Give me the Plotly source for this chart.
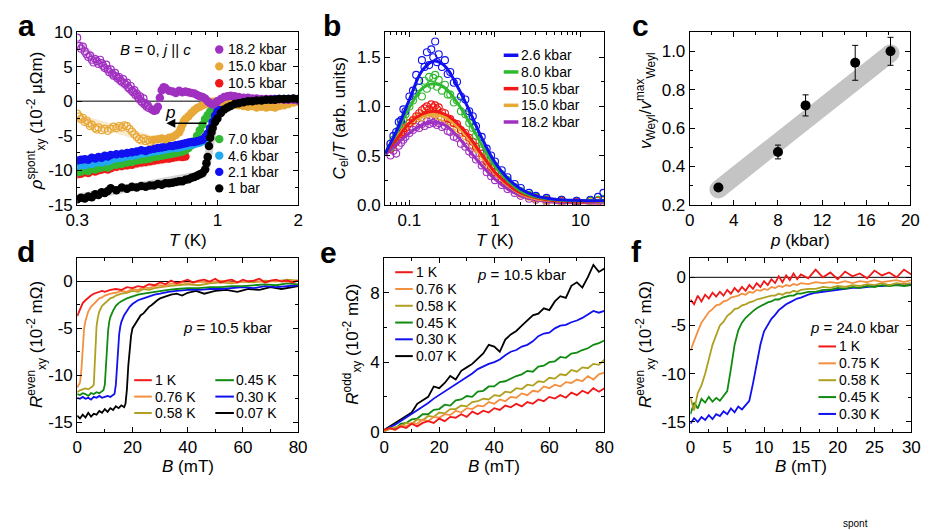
import math
import plotly.graph_objects as go

FONT = "Liberation Sans, Arial, Helvetica, sans-serif"
W, H = 935, 530

# ---------------- panel a : rho_xy^spont vs T ----------------
a_T_grid = [0.30, 0.31, 0.32, 0.33, 0.34, 0.35, 0.36, 0.37, 0.38, 0.39, 0.40,
            0.42, 0.44, 0.46, 0.48, 0.50, 0.52, 0.54, 0.56, 0.58, 0.60, 0.62, 0.64, 0.66, 0.68,
            0.70, 0.72, 0.74, 0.76, 0.78, 0.80, 0.82, 0.84, 0.86, 0.88, 0.90, 0.92, 0.94, 0.96, 0.98,
            1.00, 1.03, 1.06, 1.09, 1.12, 1.16, 1.20, 1.25, 1.30, 1.35, 1.40,
            1.46, 1.52, 1.58, 1.64, 1.70, 1.77, 1.84, 1.92, 2.00]
a_blue_21 = [-8.6, -8.5, -8.4, -8.5, -8.2, -8.3, -8.1, -8.2, -7.9, -8.0, -7.8,
             -7.7, -7.6, -7.5, -7.4, -7.3, -7.1, -7.2, -7.0, -6.9, -6.8, -6.7, -6.6, -6.5, -6.5,
             -6.4, -6.3, -6.2, -6.1, -6.0, -5.9, -5.9, -5.8, -5.7, -5.6, -5.2, -4.7, -3.9, -3.0, -2.1,
             -1.5, -1.0, -0.6, -0.4, -0.2, -0.1, 0.0, 0.0, 0.1, 0.1, 0.2,
             0.1, 0.2, 0.2, 0.3, 0.2, 0.3, 0.3, 0.3, 0.2]
a_lblue_46 = [-9.4, -9.2, -9.3, -9.0, -9.1, -8.9, -8.8, -8.9, -8.6, -8.7, -8.5,
              -8.3, -8.2, -8.0, -7.9, -7.8, -7.6, -7.5, -7.4, -7.3, -7.2, -7.1, -7.0, -6.9, -6.8,
              -6.8, -6.7, -6.6, -6.5, -6.4, -6.3, -6.2, -6.1, -6.0, -5.8, -5.4, -4.8, -4.0, -3.1, -2.3,
              -1.6, -1.1, -0.7, -0.4, -0.3, -0.1, 0.0, 0.0, 0.1, 0.0, 0.1,
              0.2, 0.1, 0.2, 0.2, 0.3, 0.2, 0.3, 0.2, 0.2]
a_green_70 = [-10.3, -10.2, -10.0, -10.1, -9.8, -9.9, -9.7, -9.6, -9.5, -9.6, -9.4,
              -9.2, -9.1, -8.9, -8.8, -8.6, -8.5, -8.4, -8.3, -8.1, -8.0, -7.9, -7.8, -7.7, -7.6,
              -7.5, -7.4, -7.3, -7.1, -6.8, -6.4, -5.8, -5.0, -4.2, -3.4, -2.6, -2.0, -1.5, -1.1, -0.8,
              -0.6, -0.4, -0.3, -0.2, -0.1, 0.0, 0.0, 0.1, 0.0, 0.1, 0.0,
              0.1, 0.0, 0.1, 0.0, 0.1, 0.0, 0.1, 0.0, 0.1]
a_T_red = [0.30, 0.31, 0.32, 0.33, 0.34, 0.35, 0.36, 0.37, 0.38, 0.39, 0.40,
           0.42, 0.44, 0.46, 0.48, 0.50, 0.52, 0.54, 0.56, 0.58, 0.60, 0.62, 0.64, 0.66, 0.68,
           0.70, 0.72, 0.74, 0.76,
           1.03, 1.06, 1.09, 1.12, 1.16, 1.20, 1.25, 1.30, 1.35, 1.40,
           1.46, 1.52, 1.58, 1.64, 1.70, 1.77, 1.84, 1.92, 2.00]
a_red_105 = [-10.6, -10.5, -10.3, -10.4, -10.1, -10.2, -10.0, -9.9, -9.8, -9.9, -9.7,
             -9.5, -9.4, -9.3, -9.2, -9.0, -8.9, -8.8, -8.7, -8.6, -8.5, -8.4, -8.3, -8.3, -8.2,
             -8.1, -8.0, -8.1, -8.0,
             -0.5, -0.4, -0.3, -0.3, -0.4, -0.3, -0.2, -0.3, -0.2, -0.3,
             -0.2, -0.3, -0.2, -0.2, -0.1, -0.1, 0.0, 0.0, 0.0]
a_T_black = [0.30, 0.31, 0.32, 0.33, 0.34, 0.35, 0.36, 0.37, 0.38, 0.39, 0.40,
             0.42, 0.44, 0.46, 0.48, 0.50, 0.52, 0.54, 0.56, 0.58, 0.60, 0.62, 0.64, 0.66, 0.68,
             0.70, 0.72, 0.74, 0.76, 0.78, 0.80, 0.82, 0.84, 0.86, 0.88,
             0.90, 0.91, 0.92, 0.93, 0.94, 0.95, 0.96, 0.98,
             1.00, 1.03, 1.06, 1.09, 1.12, 1.16, 1.20, 1.25, 1.30, 1.35, 1.40,
             1.46, 1.52, 1.58, 1.64, 1.70, 1.77, 1.84, 1.92, 2.00]
a_black_1bar = [-14.2, -14.0, -14.1, -13.8, -13.9, -13.5, -13.6, -13.2, -13.3, -13.0, -12.6,
                -12.9, -12.5, -12.7, -12.4, -12.5, -12.3, -12.4, -12.2, -12.2, -12.0, -12.1, -11.9, -11.9, -11.8,
                -11.7, -11.6, -11.6, -11.4, -11.3, -11.1, -11.0, -10.8, -10.6, -10.4,
                -9.9, -9.0, -8.1, -6.5, -5.3, -4.5, -3.9, -3.0,
                -2.5, -1.7, -1.2, -0.9, -0.7, -0.4, -0.3, -0.15, 0.0, 0.0, 0.1,
                0.1, 0.2, 0.2, 0.2, 0.3, 0.3, 0.3, 0.4, 0.3]
a_T_purple_open = [0.300, 0.305, 0.310, 0.315, 0.320, 0.325, 0.330, 0.335, 0.340, 0.345,
                   0.350, 0.355, 0.360, 0.365, 0.370, 0.375, 0.380, 0.385, 0.390, 0.395,
                   0.400, 0.405, 0.410, 0.415, 0.420, 0.425, 0.430, 0.435, 0.440, 0.445,
                   0.450, 0.455, 0.460, 0.465, 0.470, 0.475, 0.480, 0.485, 0.490, 0.495,
                   0.500, 0.505, 0.510, 0.515, 0.520, 0.525, 0.530, 0.535, 0.540, 0.545,
                   0.550, 0.555]
a_purple_open = [9.2, 8.0, 7.6, 7.9, 7.2, 6.8, 6.4, 6.6, 6.0, 5.6,
                 6.1, 5.8, 5.4, 6.0, 5.5, 5.1, 4.8, 5.3, 4.6, 4.2,
                 4.6, 4.0, 3.7, 4.1, 3.6, 3.3, 3.5, 3.0, 2.8, 3.2,
                 2.6, 2.4, 2.7, 2.0, 1.8, 2.2, 1.5, 1.3, 1.6, 0.9,
                 1.1, 0.6, 0.3, 0.7, 0.0, -0.2, 0.4, -0.5, -0.3, -0.8,
                 -0.6, -1.0]
a_T_purple = [0.57, 0.58, 0.59, 0.60, 0.61, 0.62, 0.63, 0.64, 0.66, 0.68, 0.70, 0.72, 0.74, 0.76,
              0.78, 0.80, 0.82, 0.84, 0.86, 0.88, 0.90, 0.92, 0.94, 0.96, 0.98, 1.00, 1.03, 1.06,
              1.09, 1.12, 1.16, 1.20, 1.25, 1.30, 1.35, 1.40, 1.46, 1.52, 1.58, 1.64, 1.70, 1.77,
              1.84, 1.92, 2.00]
a_purple_182 = [-1.2, -1.4, -1.3, -0.8, 0.5, 1.6, 2.0, 1.9, 1.5, 1.4, 1.2, 1.5, 1.3, 1.4,
                1.3, 1.2, 1.1, 0.9, 0.7, 0.6, 0.4, 0.0, -0.3, -0.5, -0.3, 0.0, 0.3, 0.6,
                0.7, 0.8, 0.7, 0.6, 0.5, 0.5, 0.4, 0.4, 0.3, 0.3, 0.3, 0.2, 0.3, 0.2,
                0.2, 0.2, 0.1]
a_T_orange_open = [0.300, 0.305, 0.310, 0.315, 0.320, 0.325, 0.330, 0.335, 0.340, 0.350,
                   0.355, 0.360, 0.370, 0.380, 0.390, 0.400, 0.410, 0.420, 0.430, 0.440,
                   0.450, 0.460, 0.470, 0.480, 0.490, 0.500, 0.510, 0.520, 0.530, 0.540,
                   0.550, 0.560, 0.570]
a_orange_open = [-1.8, -2.2, -2.6, -2.4, -3.0, -2.8, -3.2, -3.6, -3.4, -3.9,
                 -4.1, -3.8, -4.2, -4.0, -4.3, -4.0, -3.7, -3.9, -3.6, -3.8,
                 -3.5, -3.6, -4.0, -4.4, -4.8, -5.2, -5.5, -5.7, -5.4, -5.8,
                 -5.6, -5.9, -5.7]
a_T_orange = [0.58, 0.60, 0.62, 0.64, 0.66, 0.68, 0.70, 0.72, 0.73, 0.74, 0.75, 0.76, 0.78, 0.80,
              0.82, 0.84, 0.86, 0.88, 0.90, 0.92, 0.94, 0.96, 0.98, 1.00, 1.03, 1.06, 1.09, 1.12,
              1.16, 1.20, 1.25, 1.30, 1.35, 1.40, 1.46, 1.52, 1.58, 1.64, 1.70, 1.77, 1.84, 1.92, 2.00]
a_orange_150 = [-5.6, -5.5, -5.4, -5.5, -5.3, -5.2, -4.9, -4.5, -4.0, -3.4,
                -2.9, -2.6, -2.2, -1.7, -1.3, -1.0, -0.8, -0.6, -0.4, -0.3,
                -0.2, -0.1, -0.1, 0.0, -0.1, -0.2, -0.3, -0.4, -0.5, -0.6,
                -0.7, -0.8, -0.7, -0.9, -0.8, -0.9, -0.8, -0.9, -0.7, -0.6,
                -0.4, -0.2, 0.0]
# faint guide bands (pale lines behind the points)
a_guide_purple_T, a_guide_purple = [0.30, 0.56], [8.4, -0.9]
a_guide_orange_T, a_guide_orange = [0.30, 0.57], [-2.4, -5.6]
a_guide_red_T, a_guide_red = [0.30, 0.76], [-10.5, -8.0]
a_guide_black_T = [0.30, 0.88, 0.91, 0.94, 0.97, 1.02, 1.10]
a_guide_black = [-14.0, -10.6, -9.5, -5.5, -3.2, -1.8, -0.8]
a_legend_top = ["18.2 kbar", "15.0 kbar", "10.5 kbar"]
a_legend_bottom = ["7.0 kbar", "4.6 kbar", "2.1 kbar", "1 bar"]

# ---------------- panel b : C_el/T vs T ----------------
b_T_fit = [0.052, 0.07, 0.1, 0.14, 0.19, 0.26, 0.36, 0.5, 0.7, 1.0, 1.4, 2.0, 3.0, 5.0, 8.0, 12.0, 19.0]
b_fit_26 = [0.52, 0.74, 1.07, 1.36, 1.46, 1.41, 1.21, 0.96, 0.68, 0.43, 0.27, 0.16, 0.09, 0.055, 0.045, 0.04, 0.04]
b_fit_80 = [0.52, 0.72, 0.99, 1.18, 1.23, 1.19, 1.04, 0.84, 0.61, 0.39, 0.25, 0.14, 0.08, 0.05, 0.04, 0.04, 0.04]
b_fit_105 = [0.52, 0.66, 0.83, 0.92, 0.95, 0.92, 0.83, 0.69, 0.51, 0.33, 0.21, 0.12, 0.07, 0.04, 0.03, 0.03, 0.04]
b_fit_150 = [0.53, 0.68, 0.83, 0.90, 0.92, 0.89, 0.80, 0.67, 0.49, 0.32, 0.20, 0.11, 0.06, 0.04, 0.03, 0.03, 0.03]
b_fit_182 = [0.51, 0.61, 0.73, 0.81, 0.84, 0.81, 0.70, 0.55, 0.40, 0.26, 0.16, 0.09, 0.05, 0.025, 0.02, 0.02, 0.02]
b_T_pts = [0.06, 0.065, 0.07, 0.075, 0.08, 0.085, 0.09, 0.1, 0.11, 0.12, 0.13, 0.14, 0.15, 0.16,
           0.17, 0.18, 0.19, 0.2, 0.21, 0.22, 0.24, 0.26, 0.28, 0.3, 0.33, 0.36, 0.4, 0.45, 0.5,
           0.55, 0.6, 0.7, 0.8, 0.9, 1.0, 1.2, 1.4, 1.7, 2.0, 2.5, 3, 4, 6, 9, 13, 16, 18.5]
b_pts_26 = [0.62, 0.70, 0.74, 0.84, 0.86, 0.97, 0.95, 1.10, 1.16, 1.32, 1.26, 1.47, 1.40, 1.55,
            1.42, 1.58, 1.50, 1.66, 1.45, 1.53, 1.40, 1.47, 1.33, 1.35, 1.24, 1.25, 1.10, 1.07, 0.95,
            0.90, 0.80, 0.69, 0.57, 0.50, 0.44, 0.35, 0.28, 0.21, 0.17, 0.12, 0.09, 0.07, 0.05, 0.04, 0.05, 0.08, 0.12]
b_pts_80 = [0.58, 0.66, 0.70, 0.76, 0.82, 0.87, 0.92, 1.00, 1.06, 1.13, 1.19, 1.10, 1.26, 1.18,
            1.30, 1.22, 1.29, 1.32, 1.20, 1.27, 1.16, 1.22, 1.12, 1.12, 1.04, 1.06, 0.95, 0.92, 0.83,
            0.78, 0.70, 0.62, 0.52, 0.45, 0.39, 0.31, 0.25, 0.18, 0.14, 0.10, 0.08, 0.06, 0.05, 0.04, 0.04, 0.05, 0.06]
b_pts_105 = [0.57, 0.61, 0.64, 0.69, 0.72, 0.74, 0.78, 0.83, 0.86, 0.90, 0.93, 0.96, 0.98, 1.00,
             0.97, 1.02, 0.99, 1.01, 0.97, 0.99, 0.94, 0.93, 0.88, 0.87, 0.83, 0.82, 0.76, 0.73, 0.68,
             0.64, 0.59, 0.52, 0.44, 0.38, 0.33, 0.26, 0.21, 0.16, 0.12, 0.09, 0.07, 0.05, 0.04, 0.03, 0.04, 0.04, 0.05]
b_pts_150 = [0.62, 0.66, 0.68, 0.72, 0.74, 0.78, 0.80, 0.83, 0.85, 0.88, 0.90, 0.89, 0.93, 0.92,
             0.94, 0.93, 0.95, 0.92, 0.93, 0.90, 0.89, 0.88, 0.85, 0.83, 0.80, 0.78, 0.73, 0.70, 0.66,
             0.61, 0.57, 0.49, 0.42, 0.36, 0.32, 0.25, 0.20, 0.15, 0.11, 0.08, 0.06, 0.04, 0.03, 0.03, 0.03, 0.04, 0.04]
b_pts_182 = [0.50, 0.55, 0.52, 0.60, 0.63, 0.66, 0.69, 0.73, 0.76, 0.79, 0.78, 0.82, 0.80, 0.85,
             0.82, 0.86, 0.83, 0.85, 0.81, 0.83, 0.79, 0.80, 0.75, 0.74, 0.69, 0.68, 0.62, 0.59, 0.54,
             0.51, 0.46, 0.40, 0.33, 0.29, 0.25, 0.20, 0.16, 0.12, 0.09, 0.06, 0.05, 0.03, 0.02, 0.02, 0.01, 0.02, 0.02]
b_names = ["2.6 kbar", "8.0 kbar", "10.5 kbar", "15.0 kbar", "18.2 kbar"]

# ---------------- panel c : v_Weyl / v_Weyl^max vs p ----------------
c_p = [2.6, 8.0, 10.5, 15.0, 18.2]
c_v = [0.29, 0.475, 0.718, 0.94, 1.0]
c_err = [0.0, 0.036, 0.055, 0.091, 0.073]
c_band_p = [2.6, 18.2]
c_band_v = [0.28, 0.99]

# ---------------- panel d : R_xy^even vs B, p = 10.5 kbar ----------------
d_B_1K = [0, 0.5, 1, 1.5, 2, 3, 4, 5, 6, 7, 8, 9, 10, 12, 14, 16, 18, 20, 22, 24, 26, 28, 30, 32,
          34, 36, 38, 40, 42, 44, 46, 48, 50, 52, 54, 56, 58, 60, 62, 64, 66, 68, 70, 72, 74, 76, 78, 80]
d_1K = [-3.7, -3.3, -2.9, -2.6, -2.3, -2.0, -1.7, -1.5, -1.3, -1.2, -1.1, -1.0, -1.1, -0.9, -0.8, -0.9,
        -0.6, -0.7, -0.5, -0.6, -0.3, -0.4, -0.1, -0.3, 0.1, -0.2, 0.0, 0.2, -0.1, 0.1, 0.2, 0.0,
        0.3, -0.1, 0.1, 0.2, -0.1, 0.2, 0.0, 0.1, 0.3, -0.1, 0.1, 0.2, 0.0, 0.1, -0.1, 0.1]
d_B_076 = [0, 0.5, 1, 1.5, 2, 2.5, 3, 3.5, 4, 5, 6, 7, 8, 9, 10, 12, 14, 16, 18, 20, 22, 24, 26, 28,
           30, 32, 34, 36, 38, 40, 44, 48, 52, 56, 60, 64, 68, 72, 76, 80]
d_076 = [-11.3, -11.0, -10.8, -9.5, -7.0, -5.0, -4.2, -3.6, -3.2, -2.7, -2.4, -2.1, -1.8, -1.7, -1.5,
         -1.3, -1.2, -1.0, -1.1, -0.8, -0.9, -0.6, -0.7, -0.5, -0.4, -0.5, -0.2, -0.3, -0.1, -0.2,
         0.0, -0.1, 0.1, -0.1, 0.0, 0.1, -0.1, 0.1, 0.0, 0.1]
d_B_058 = [0, 1, 2, 3, 4, 5, 5.5, 6, 6.3, 6.6, 7, 7.5, 8, 9, 10, 11, 12, 13, 14, 16, 18, 20, 22, 24,
           26, 28, 30, 33, 36, 40, 44, 48, 52, 56, 60, 64, 68, 72, 76, 80]
d_058 = [-11.8, -11.6, -11.5, -11.4, -11.5, -11.3, -11.2, -11.0, -9.0, -6.5, -4.8, -3.8, -3.2, -2.6,
         -2.3, -2.0, -1.8, -1.7, -1.5, -1.3, -1.2, -1.0, -1.1, -0.8, -0.9, -0.7, -0.6, -0.5, -0.4,
         -0.3, -0.4, -0.2, -0.1, -0.2, 0.0, -0.1, 0.1, 0.0, 0.2, 0.1]
d_B_045 = [0, 1, 2, 3, 4, 5, 6, 7, 8, 9, 9.5, 10, 10.4, 10.8, 11.2, 11.6, 12, 13, 14, 15, 16, 18, 20,
           22, 24, 26, 28, 30, 33, 36, 40, 44, 48, 52, 56, 60, 64, 68, 72, 76, 80]
d_045 = [-12.0, -12.1, -11.9, -12.0, -12.2, -11.9, -12.0, -11.8, -11.9, -11.7, -11.6, -11.0, -9.0,
         -6.8, -5.2, -4.3, -3.8, -3.1, -2.6, -2.3, -2.1, -1.8, -1.6, -1.4, -1.3, -1.2, -1.1, -1.0,
         -0.9, -0.8, -0.7, -0.7, -0.6, -0.6, -0.5, -0.5, -0.4, -0.3, -0.4, -0.2, -0.3]
d_B_030 = [0, 1, 2, 3, 4, 5, 6, 7, 8, 9, 10, 11, 12, 13, 13.5, 14, 14.4, 14.8, 15.2, 15.6, 16, 17, 18,
           19, 20, 22, 24, 26, 28, 30, 33, 36, 40, 44, 48, 52, 56, 60, 64, 68, 72, 76, 80]
d_030 = [-12.4, -12.5, -12.3, -12.5, -12.4, -12.6, -12.3, -12.4, -12.2, -12.4, -12.3, -12.2, -12.3,
         -12.1, -12.0, -11.0, -9.0, -7.0, -5.6, -4.8, -4.3, -3.6, -3.1, -2.7, -2.4, -2.0, -1.8, -1.6,
         -1.4, -1.3, -1.1, -1.0, -0.9, -0.9, -0.8, -0.8, -0.7, -0.6, -0.7, -0.5, -0.6, -0.5, -0.4]
d_B_007 = [0, 1, 2, 3, 4, 5, 6, 7, 8, 9, 10, 11, 12, 13, 14, 15, 16, 17, 17.5, 18, 18.5, 19, 19.5, 20,
           21, 22, 23, 24, 25, 26, 27, 28, 29, 30, 32, 34, 36, 38, 40, 43, 46, 50, 54, 58, 62, 66,
           70, 74, 78, 80]
d_007 = [-14.3, -14.6, -14.2, -14.5, -14.0, -14.4, -14.1, -14.2, -13.8, -14.0, -13.6, -13.9, -13.5,
         -13.7, -13.3, -13.5, -13.2, -13.4, -13.0, -11.5, -9.0, -7.0, -5.8, -5.0, -4.5, -4.0, -3.6,
         -3.4, -3.0, -2.7, -2.5, -2.2, -2.0, -1.8, -1.6, -1.4, -1.3, -1.5, -1.2, -1.0, -1.3, -1.0,
         -0.9, -1.1, -0.8, -0.9, -0.6, -0.8, -0.6, -0.5]
d_names = ["1 K", "0.76 K", "0.58 K", "0.45 K", "0.30 K", "0.07 K"]

# ---------------- panel e : R_xy^odd vs B, p = 10.5 kbar ----------------
e_B = [0, 2, 4, 6, 8, 10, 12, 14, 16, 18, 20, 22, 24, 26, 28, 30, 32, 34, 36, 38, 40,
       42, 44, 46, 48, 50, 52, 54, 56, 58, 60, 62, 64, 66, 68, 70, 72, 74, 76, 78, 80]
e_1K = [0.1, 0.2, 0.1, 0.3, 0.2, 0.45, 0.3, 0.5, 0.6, 0.5, 0.75, 0.6, 0.85, 0.8, 1.0, 0.85, 1.15,
        1.0, 1.2, 1.1, 1.35, 1.25, 1.5, 1.4, 1.6, 1.45, 1.7, 1.6, 1.85, 1.75, 2.0, 1.9, 2.1, 1.95,
        2.25, 2.1, 2.35, 2.2, 2.5, 2.3, 2.5]
e_076 = [0.0, 0.2, 0.1, 0.35, 0.3, 0.5, 0.45, 0.7, 0.6, 0.85, 0.8, 1.0, 0.95, 1.2, 1.1, 1.35, 1.3,
         1.5, 1.45, 1.7, 1.6, 1.85, 1.75, 2.0, 1.95, 2.2, 2.1, 2.35, 2.3, 2.6, 2.5, 2.7, 2.6, 2.85,
         2.8, 3.0, 2.9, 3.2, 3.0, 3.3, 3.4]
e_058 = [0.0, 0.15, 0.25, 0.3, 0.5, 0.45, 0.7, 0.65, 0.9, 0.85, 1.1, 1.05, 1.3, 1.3, 1.5, 1.45, 1.7,
         1.75, 1.9, 1.85, 2.1, 2.05, 2.3, 2.25, 2.5, 2.45, 2.7, 2.65, 2.9, 2.85, 3.1, 3.05, 3.3, 3.25,
         3.55, 3.45, 3.7, 3.65, 3.9, 3.85, 4.15]
e_045 = [0.0, 0.2, 0.15, 0.45, 0.5, 0.7, 0.75, 1.0, 1.0, 1.25, 1.3, 1.55, 1.5, 1.8, 1.85, 2.05, 2.0,
         2.3, 2.35, 2.6, 2.6, 2.85, 2.9, 3.05, 3.2, 3.3, 3.5, 3.45, 3.75, 3.8, 4.0, 4.05, 4.3, 4.25,
         4.5, 4.55, 4.7, 4.8, 5.0, 5.1, 5.25]
e_030 = [0.0, 0.25, 0.4, 0.6, 0.8, 1.0, 1.2, 1.45, 1.65, 1.9, 2.1, 2.3, 2.5, 2.75, 2.9, 3.1, 3.35,
         3.6, 3.75, 3.9, 4.0, 4.15, 4.4, 4.6, 4.7, 4.9, 5.0, 5.2, 5.5, 5.65, 5.7, 5.95, 6.1, 6.15,
         6.3, 6.4, 6.55, 6.75, 6.95, 6.85, 6.95]
e_007 = [0.1, 0.3, 0.5, 0.7, 0.9, 1.1, 1.6, 1.8, 2.0, 2.6, 2.5, 2.8, 3.2, 3.0, 3.5, 3.7, 3.9, 4.2,
         4.5, 5.0, 4.9, 4.6, 5.3, 5.6, 5.8, 6.1, 6.4, 6.7, 6.8, 7.1, 7.0, 7.5, 7.8, 7.7, 8.4, 8.6,
         8.3, 8.9, 9.6, 9.2, 9.4]
e_names = ["1 K", "0.76 K", "0.58 K", "0.45 K", "0.30 K", "0.07 K"]

# ---------------- panel f : R_xy^even vs B, p = 24.0 kbar ----------------
f_B = [0, 0.5, 1, 1.5, 2, 2.5, 3, 3.5, 4, 4.5, 5, 5.5, 6, 6.5, 7, 7.5, 8, 8.5, 9, 9.5, 10, 10.5,
       11, 11.5, 12, 12.5, 13, 13.5, 14, 14.5, 15, 16, 17, 18, 19, 20, 21, 22, 23, 24, 25, 26,
       27, 28, 29, 30]
f_1K = [-2.3, -2.8, -1.9, -2.5, -1.8, -2.2, -1.6, -2.0, -1.5, -1.9, -1.3, -1.7, -1.1, -1.5, -1.0,
        -1.4, -0.8, -1.2, -0.6, -1.0, -0.4, -0.8, -0.2, -0.6, 0.1, -0.5, 0.2, -0.3, 0.4, -0.2, 0.3,
        -0.1, 0.8, 0.0, 0.5, -0.2, 0.6, 0.1, 0.4, -0.1, 0.7, 0.2, 0.5, 0.0, 0.8, 0.3]
f_075 = [-7.6, -6.5, -5.6, -4.7, -4.2, -3.6, -3.3, -2.9, -2.8, -2.5, -2.4, -2.1, -2.0, -1.9, -1.7,
         -1.8, -1.5, -1.6, -1.3, -1.4, -1.2, -1.3, -1.0, -1.1, -0.9, -1.0, -0.8, -0.9, -0.7, -0.8,
         -0.6, -0.7, -0.5, -0.6, -0.5, -0.6, -0.4, -0.6, -0.4, -0.5, -0.3, -0.5, -0.4, -0.3, -0.5, -0.3]
f_058 = [-12.5, -13.8, -12.0, -11.2, -10.0, -8.5, -7.0, -6.0, -5.0, -4.6, -4.0, -3.7, -3.3, -3.2,
         -2.9, -2.8, -2.6, -2.5, -2.3, -2.2, -2.1, -2.0, -1.9, -1.9, -1.7, -1.8, -1.6, -1.6, -1.4,
         -1.5, -1.3, -1.2, -1.2, -1.0, -1.1, -0.9, -1.0, -0.8, -0.9, -0.7, -0.8, -0.6, -0.8, -0.6,
         -0.7, -0.6]
f_045 = [-14.2, -13.0, -13.6, -12.6, -13.0, -12.4, -12.9, -12.5, -12.8, -12.3, -11.8, -9.5, -7.0,
         -5.5, -4.7, -4.2, -3.8, -3.5, -3.2, -3.0, -2.8, -2.6, -2.5, -2.3, -2.3, -2.1, -2.0, -1.9,
         -1.9, -1.7, -1.7, -1.5, -1.5, -1.3, -1.3, -1.1, -1.2, -1.0, -1.1, -0.9, -1.0, -0.8, -0.9,
         -0.8, -0.9, -0.8]
f_030 = [-15.2, -14.6, -15.0, -14.5, -14.8, -14.3, -14.7, -14.2, -14.4, -13.9, -14.2, -13.6, -14.0,
         -13.4, -13.7, -13.2, -12.8, -11.0, -9.0, -7.0, -5.6, -4.9, -4.3, -3.9, -3.4, -3.1, -2.8,
         -2.6, -2.4, -2.2, -2.1, -1.8, -1.6, -1.5, -1.4, -1.3, -1.2, -1.1, -1.1, -1.0, -0.9, -0.9,
         -0.8, -0.8, -0.7, -0.7]
f_names = ["1 K", "0.75 K", "0.58 K", "0.45 K", "0.30 K"]

# ---------------- colours ----------------
C_PURPLE = "#A030C0"
C_GOLD = "#E8A838"
C_RED = "#F01818"
C_GREEN = "#30B830"
C_LBLUE = "#20A8F0"
C_BLUE = "#1010F0"
C_ORANGE = "#F39040"
C_OLIVE = "#B0A020"
C_DGREEN = "#108A10"

fig = go.Figure()


def fx(px):
    return px / W


def fy(py):
    return 1 - py / H


# ---- panel a traces ----
def guide(xs, ys, color):
    fig.add_trace(go.Scatter(x=xs, y=ys, mode="lines", line=dict(color=color, width=8),
                             opacity=0.25, showlegend=False, hoverinfo="skip",
                             xaxis="x", yaxis="y"))


guide(a_guide_purple_T, a_guide_purple, C_PURPLE)
guide(a_guide_orange_T, a_guide_orange, C_GOLD)
guide(a_guide_red_T, a_guide_red, C_RED)
guide(a_guide_black_T, a_guide_black, "#555555")


def dots(xs, ys, color, filled=True):
    fig.add_trace(go.Scatter(
        x=xs, y=ys, mode="markers", showlegend=False,
        marker=dict(symbol="circle" if filled else "circle-open", size=8.5 if filled else 7,
                    color=color, line=dict(width=1.2 if not filled else 0, color=color)),
        xaxis="x", yaxis="y"))


dots(a_T_red, a_red_105, C_RED)
dots(a_T_grid, a_green_70, C_GREEN)
dots(a_T_grid, a_lblue_46, C_LBLUE)
dots(a_T_grid, a_blue_21, C_BLUE)
dots(a_T_orange_open, a_orange_open, C_GOLD, filled=False)
dots(a_T_orange, a_orange_150, C_GOLD)
dots(a_T_purple_open, a_purple_open, C_PURPLE, filled=False)
dots(a_T_purple, a_purple_182, C_PURPLE)
dots(a_T_black, a_black_1bar, "#000000")

# ---- panel b traces ----
b_sets = [(b_pts_182, b_fit_182, C_PURPLE),
          (b_pts_150, b_fit_150, C_GOLD),
          (b_pts_105, b_fit_105, C_RED),
          (b_pts_80, b_fit_80, C_GREEN),
          (b_pts_26, b_fit_26, C_BLUE)]
for pts, fit, col in b_sets:
    fig.add_trace(go.Scatter(x=b_T_pts, y=pts, mode="markers", showlegend=False,
                             marker=dict(symbol="circle-open", size=7, color=col,
                                         line=dict(width=1.1, color=col)),
                             xaxis="x2", yaxis="y2"))
for pts, fit, col in b_sets:
    fig.add_trace(go.Scatter(x=b_T_fit, y=fit, mode="lines", showlegend=False,
                             line=dict(color=col, width=3, shape="spline"),
                             xaxis="x2", yaxis="y2"))

# ---- panel c traces ----
fig.add_trace(go.Scatter(x=c_band_p, y=c_band_v, mode="lines+markers", showlegend=False,
                         line=dict(color="#C4C4C4", width=18),
                         marker=dict(size=18, color="#C4C4C4"),
                         xaxis="x3", yaxis="y3"))
fig.add_trace(go.Scatter(x=c_p, y=c_v, mode="markers", showlegend=False,
                         marker=dict(size=10, color="black"),
                         error_y=dict(type="data", array=c_err, color="black", thickness=1, width=3),
                         xaxis="x3", yaxis="y3"))

# ---- panel d traces ----
d_cols = [C_RED, C_ORANGE, C_OLIVE, C_DGREEN, C_BLUE, "#000000"]
d_sets = [(d_B_1K, d_1K), (d_B_076, d_076), (d_B_058, d_058),
          (d_B_045, d_045), (d_B_030, d_030), (d_B_007, d_007)]
for (xs, ys), col in reversed(list(zip(d_sets, d_cols))):
    fig.add_trace(go.Scatter(x=xs, y=ys, mode="lines", showlegend=False,
                             line=dict(color=col, width=1.8), xaxis="x4", yaxis="y4"))

# ---- panel e traces ----
e_sets = [e_1K, e_076, e_058, e_045, e_030, e_007]
for ys, col in reversed(list(zip(e_sets, d_cols))):
    fig.add_trace(go.Scatter(x=e_B, y=ys, mode="lines", showlegend=False,
                             line=dict(color=col, width=1.8), xaxis="x5", yaxis="y5"))

# ---- panel f traces ----
f_cols = [C_RED, C_ORANGE, C_OLIVE, C_DGREEN, C_BLUE]
f_sets = [f_1K, f_075, f_058, f_045, f_030]
for ys, col in reversed(list(zip(f_sets, f_cols))):
    fig.add_trace(go.Scatter(x=f_B, y=ys, mode="lines", showlegend=False,
                             line=dict(color=col, width=1.8), xaxis="x6", yaxis="y6"))


# ---------------- axes ----------------
def axis(domain_px, horizontal, rng, tickvals, ticktext, minor_vals, log=False, anchor=None):
    if horizontal:
        dom = [fx(domain_px[0]), fx(domain_px[1])]
    else:
        dom = [fy(domain_px[1]), fy(domain_px[0])]
    return dict(domain=dom, range=rng, type="log" if log else "linear",
                showline=True, linecolor="black", linewidth=1, mirror="allticks",
                ticks="inside", ticklen=5, tickwidth=1, tickcolor="black",
                showgrid=False, zeroline=False, tickvals=tickvals, ticktext=ticktext,
                tickfont=dict(size=17, color="black", family=FONT),
                minor=dict(ticks="inside", ticklen=3, tickwidth=1, tickcolor="black",
                           tickvals=minor_vals, showgrid=False),
                anchor=anchor, fixedrange=True)


TOP = (24, 203)
BOT = (258.3, 438.3)
XA, XB, XC = (66.7, 292.7), (381.7, 606), (693.3, 919)
XD, XE, XF = (66.7, 292.7), (380.7, 606), (694, 920)

layout = dict(
    xaxis=axis(XA, True, [math.log10(0.3), math.log10(2)], [0.3, 1, 2], ["0.3", "1", "2"],
               [0.4, 0.5, 0.6, 0.7, 0.8, 0.9], log=True, anchor="y"),
    yaxis=axis(TOP, False, [-15, 10], [-15, -10, -5, 0, 5, 10], ["-15", "-10", "-5", "0", "5", "10"],
               [-12.5, -7.5, -2.5, 2.5, 7.5], anchor="x"),
    xaxis2=axis(XB, True, [math.log10(0.052), math.log10(19)], [0.1, 1, 10], ["0.1", "1", "10"],
                [0.06, 0.07, 0.08, 0.09, 0.2, 0.3, 0.4, 0.5, 0.6, 0.7, 0.8, 0.9,
                 2, 3, 4, 5, 6, 7, 8, 9], log=True, anchor="y2"),
    yaxis2=axis(TOP, False, [0, 1.755], [0, 0.5, 1.0, 1.5], ["0.0", "0.5", "1.0", "1.5"],
                [0.25, 0.75, 1.25], anchor="x2"),
    xaxis3=axis(XC, True, [0, 20], [0, 4, 8, 12, 16, 20], ["0", "4", "8", "12", "16", "20"],
                [2, 6, 10, 14, 18], anchor="y3"),
    yaxis3=axis(TOP, False, [0.2, 1.1], [0.2, 0.4, 0.6, 0.8, 1.0], ["0.2", "0.4", "0.6", "0.8", "1.0"],
                [0.3, 0.5, 0.7, 0.9], anchor="x3"),
    xaxis4=axis(XD, True, [0, 80], [0, 20, 40, 60, 80], ["0", "20", "40", "60", "80"],
                [10, 30, 50, 70], anchor="y4"),
    yaxis4=axis(BOT, False, [-16, 2.5], [-15, -10, -5, 0], ["-15", "-10", "-5", "0"],
                [-12.5, -7.5, -2.5], anchor="x4"),
    xaxis5=axis(XE, True, [0, 80], [0, 20, 40, 60, 80], ["0", "20", "40", "60", "80"],
                [10, 30, 50, 70], anchor="y5"),
    yaxis5=axis(BOT, False, [0, 10], [0, 4, 8], ["0", "4", "8"], [2, 6], anchor="x5"),
    xaxis6=axis(XF, True, [0, 30], [0, 5, 10, 15, 20, 25, 30], ["0", "5", "10", "15", "20", "25", "30"],
                [2.5, 7.5, 12.5, 17.5, 22.5, 27.5], anchor="y6"),
    yaxis6=axis(BOT, False, [-16, 2], [-15, -10, -5, 0], ["-15", "-10", "-5", "0"],
                [-12.5, -7.5, -2.5], anchor="x6"),
)

# zero lines
shapes = []
for xa, ya in [("x", "y"), ("x4", "y4"), ("x6", "y6")]:
    shapes.append(dict(type="line", xref=f"{xa} domain", yref=ya, x0=0, x1=1, y0=0, y1=0,
                       line=dict(color="black", width=1), layer="below"))

ann = []


def text(px, py, s, size=17, angle=0, xanchor="center", yanchor="middle"):
    ann.append(dict(x=fx(px), y=fy(py), xref="paper", yref="paper", text=s, showarrow=False,
                    textangle=angle, xanchor=xanchor, yanchor=yanchor,
                    font=dict(size=size, family=FONT, color="black")))


# ---- legends (key + label), laid out like the original ----
LEG_FONT = 14


def legend_dots(names, colors, x_key, x_text, y0, dy):
    for i, (nm, col) in enumerate(zip(names, colors)):
        yy = y0 + i * dy
        r = 4.3
        shapes.append(dict(type="circle", xref="paper", yref="paper",
                           x0=fx(x_key - r), x1=fx(x_key + r), y0=fy(yy + r), y1=fy(yy - r),
                           fillcolor=col, line=dict(width=0, color=col)))
        text(x_text, yy, nm, size=LEG_FONT, xanchor="left")


def legend_lines(names, colors, x0, x1, x_text, y0, dy, width):
    for i, (nm, col) in enumerate(zip(names, colors)):
        yy = y0 + i * dy
        shapes.append(dict(type="line", xref="paper", yref="paper",
                           x0=fx(x0), x1=fx(x1), y0=fy(yy), y1=fy(yy),
                           line=dict(color=col, width=width)))
        text(x_text, yy, nm, size=LEG_FONT, xanchor="left")


legend_dots(a_legend_top, [C_PURPLE, C_GOLD, C_RED], 212, 219, 42, 17.5)
legend_dots(a_legend_bottom, [C_GREEN, C_LBLUE, C_BLUE, "#000000"], 212, 219, 135, 17)
legend_lines(b_names, [C_BLUE, C_GREEN, C_RED, C_GOLD, C_PURPLE], 503, 518, 519, 48, 17.3, 3.5)
legend_lines(d_names[:3], d_cols[:3], 125, 143, 144, 385, 17, 2)
legend_lines(d_names[3:], d_cols[3:], 208, 227, 227, 385, 17, 2)
legend_lines(e_names, d_cols, 392, 410, 411, 273, 17.4, 2)
legend_lines(f_names, f_cols, 825, 843, 844, 350, 17.5, 2)

# panel letters
for lbl, px, py in [("a", 15, 17), ("b", 327, 17), ("c", 643, 17),
                    ("d", 14, 252), ("e", 324, 253), ("f", 639, 252)]:
    text(px, py, f"<b>{lbl}</b>", size=30)

# axis titles
text(180, 240, "<i>T</i> (K)")
text(494, 240, "<i>T</i> (K)")
text(806, 240, "<i>p</i> (kbar)")
text(180, 475, "<i>B</i> (mT)")
text(493, 475, "<i>B</i> (mT)")
text(807, 475, "<i>B</i> (mT)")
text(25, 116, "<i>ρ</i><sup>spont</sup><sub>xy</sub> (10<sup>-2</sup> μΩm)", angle=-90)
text(336, 113, "<i>C</i><sub>el</sub>/<i>T</i> (arb. units)", angle=-90)
text(648, 95, "<i>v</i><sub>Weyl</sub>/<i>v</i><sup>max</sup><sub>Weyl</sub>", angle=-90)
text(25, 348, "<i>R</i><sup>even</sup><sub>xy</sub> (10<sup>-2</sup> mΩ)", angle=-90)
text(348, 348, "<i>R</i><sup>odd</sup><sub>xy</sub> (10<sup>-2</sup> mΩ)", angle=-90)
text(648, 348, "<i>R</i><sup>even</sup><sub>xy</sub> (10<sup>-2</sup> mΩ)", angle=-90)

# in-panel texts
text(147, 42, "<i>B</i> = 0, <i>j</i> || <i>c</i>", size=15)
text(220, 330, "<i>p</i> = 10.5 kbar", size=15)
text(521, 275, "<i>p</i> = 10.5 kbar", size=15)
text(862, 330, "<i>p</i> = 24.0 kbar", size=15)
text(863, 526, "spont", size=10, yanchor="top")

# arrow (pressure direction) in panel a
ann.append(dict(x=math.log10(0.645), y=-3.2, ax=math.log10(0.92), ay=-3.2, xref="x", yref="y",
                axref="x", ayref="y", showarrow=True, arrowhead=2, arrowsize=1.2, arrowwidth=1.5,
                arrowcolor="black", text=""))
ann.append(dict(x=math.log10(0.665), y=-1.7, xref="x", yref="y", text="<i>p</i>", showarrow=False,
                font=dict(size=17, family=FONT, color="black")))

layout.update(
    width=W, height=H, autosize=False,
    margin=dict(l=0, r=0, t=0, b=0, pad=0),
    paper_bgcolor="white", plot_bgcolor="white",
    font=dict(family=FONT, size=14, color="black"),
    shapes=shapes, annotations=ann, hovermode=False, showlegend=False,
)
fig.update_layout(**layout)
fig.write_html("out.html", config={"displayModeBar": False})
